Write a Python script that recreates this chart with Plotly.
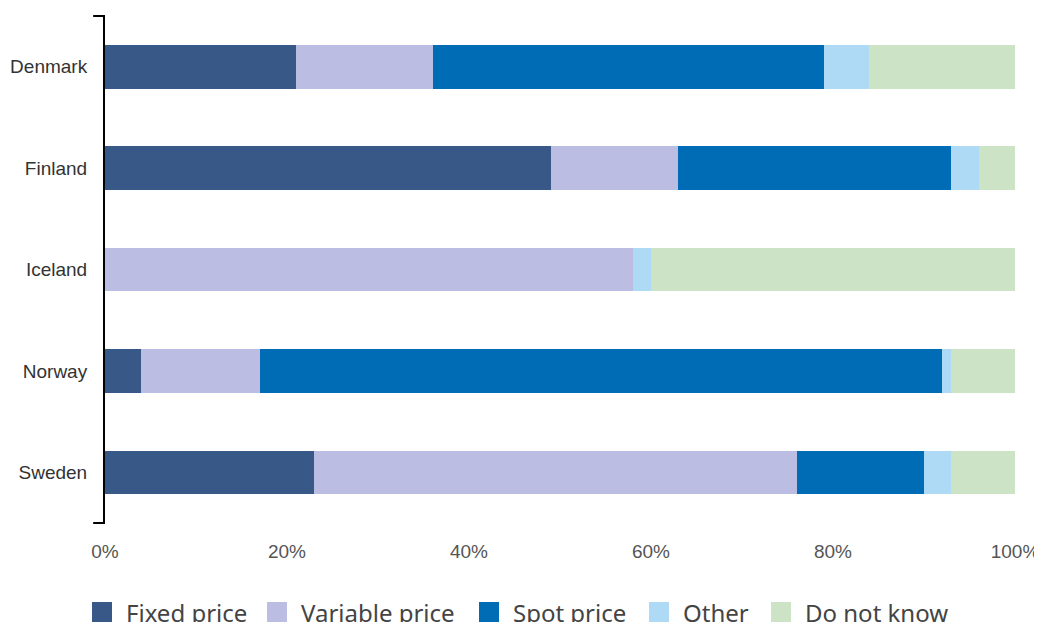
import plotly.graph_objects as go

countries = ["Denmark", "Finland", "Iceland", "Norway", "Sweden"]
fixed_price = [21, 49, 0, 4, 23]
variable_price = [15, 14, 58, 13, 53]
spot_price = [43, 30, 0, 75, 14]
other = [5, 3, 2, 1, 3]
do_not_know = [16, 4, 40, 7, 7]

series_names = ["Fixed price", "Variable price", "Spot price", "Other", "Do not know"]
series_values = [fixed_price, variable_price, spot_price, other, do_not_know]
series_colors = ["#385988", "#BBBDE2", "#006CB5", "#AEDAF5", "#CDE3C5"]

# the page body adds an 8px margin; size the figure so it fills the window exactly
OFF = 8
W, H = 1042 - OFF, 622 - OFF
L, R, T, B = 105 - OFF, 27, 16 - OFF, 99
PW, PH = W - L - R, H - T - B

def px_x(p):  # page pixel -> paper coordinate
    return (p - OFF - L) / PW

def px_y(p):
    return (H - B - (p - OFF)) / PH

fig = go.Figure()
for name, vals, col in zip(series_names, series_values, series_colors):
    fig.add_trace(go.Bar(
        y=countries, x=vals, name=name, orientation="h",
        marker=dict(color=col, line=dict(width=0)), showlegend=False,
    ))

fig.update_layout(
    barmode="stack",
    bargap=0.57,
    width=W, height=H,
    margin=dict(l=L, r=R, t=T, b=B),
    plot_bgcolor="white", paper_bgcolor="white",
    font=dict(family="Liberation Sans, sans-serif", color="#444444", size=18),
    xaxis=dict(range=[0, 100], tickvals=[0, 20, 40, 60, 80, 100],
               ticktext=["0%", "20%", "40%", "60%", "80%", "100%"],
               showgrid=False, zeroline=False, showline=False, ticks="",
               tickfont=dict(size=19, color="#555555"),
               ticklabelstandoff=15, automargin=False, fixedrange=True),
    yaxis=dict(categoryorder="array", categoryarray=countries[::-1],
               showgrid=False, zeroline=False, showline=True, linecolor="#000000",
               linewidth=2, ticks="", ticklabelstandoff=12, automargin=False,
               tickfont=dict(size=19, color="#333333")),
)
# end caps of the category axis line
for yy in (0, 1):
    fig.add_shape(type="line", xref="x domain", yref="y domain",
                  x0=-0.013, x1=0, y0=yy, y1=yy, line=dict(color="#000000", width=2))

# custom legend (large squares, text cut by the page edge as in the reference)
legend_square_left = [92, 267, 479, 649, 771]
for name, col, sx in zip(series_names, series_colors, legend_square_left):
    fig.add_shape(type="rect", xref="paper", yref="paper",
                  x0=px_x(sx), x1=px_x(sx + 20), y0=px_y(602), y1=px_y(625),
                  fillcolor=col, line=dict(width=0))
    fig.add_annotation(xref="paper", yref="paper", x=px_x(sx + 32), y=px_y(594),
                       xanchor="left", yanchor="top", showarrow=False, text=name,
                       font=dict(size=24, family="Noto Sans, sans-serif", color="#444444"))

fig.write_html("out.html")
